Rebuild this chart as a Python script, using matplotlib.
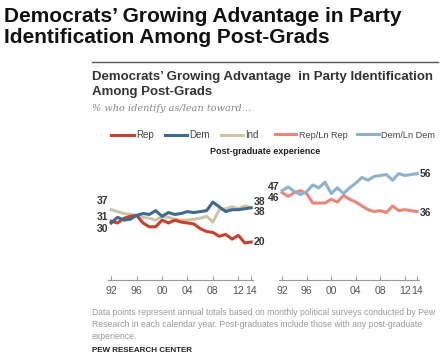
import matplotlib
matplotlib.use('Agg')
import matplotlib.pyplot as plt
from matplotlib.lines import Line2D

plt.rcParams['font.family'] = ['Liberation Sans', 'DejaVu Sans']

years = list(range(1992, 2015))
# Post-graduates, % who identify as
rep = [31, 30, 32.5, 33.5, 34, 30, 28, 28, 31.5, 30, 31.5, 30.5, 30, 29.5, 27, 25.5, 25, 23, 24, 21.5, 23.5, 19.5, 20]
dem = [30, 33, 31.5, 32, 34, 35, 34.5, 36.5, 33.5, 35.5, 34.5, 35, 36, 35.5, 36, 36.5, 41, 38.5, 36, 37, 37, 37.5, 38]
ind = [37, 36, 35, 34.5, 34, 33, 32.5, 31.5, 33.5, 33, 32, 31.5, 31.5, 32, 32.5, 33.5, 30.5, 37, 37.5, 38.5, 37.5, 39, 38]
# % who identify as / lean toward
rep_ln = [46, 44, 46, 47, 45.5, 40.5, 40.5, 40.5, 42.5, 41, 44.5, 42.5, 41, 39, 37, 36, 36.5, 35.5, 39, 36.5, 37, 36.5, 36]
dem_ln = [47, 49, 46.5, 45, 46.5, 50, 48.5, 51.5, 45.5, 48.5, 45.5, 48.5, 51, 54, 52.5, 54.5, 55, 55.5, 52.5, 56, 55, 55.5, 56]

tick_years = [1992, 1996, 2000, 2004, 2008, 2012, 2014]
tick_labels = ['92', '96', '00', '04', '08', '12', '14']

c_rep, c_dem, c_ind = '#c8412e', '#3f6a8e', '#cbc4a8'
c_rep_ln, c_dem_ln = '#e8877a', '#8fb1cc'

W, H = 445, 358
fig = plt.figure(figsize=(W / 100, H / 100), dpi=100)


def fx(px):
    return px / W


def fy(py):
    return 1 - py / H


# titles
fig.text(fx(4), fy(7), 'Democrats\u2019 Growing Advantage in Party\nIdentification Among Post-Grads',
         fontsize=15, fontweight='bold', color='#111111', va='top', ha='left', linespacing=1.15)
fig.add_artist(Line2D([fx(92), fx(438)], [fy(62), fy(62)], color='#555555', lw=1))
fig.text(fx(92), fy(71), 'Democrats\u2019 Growing Advantage  in Party Identification\nAmong Post-Grads',
         fontsize=9.5, fontweight='bold', color='#333333', va='top', ha='left', linespacing=1.3)
fig.text(fx(92), fy(104), '% who identify as/lean toward...', fontsize=7, style='italic',
         family='DejaVu Serif', color='#888888', va='top', ha='left')
fig.text(fx(265), fy(151), 'Post-graduate experience', fontsize=6.5, fontweight='bold',
         color='#222222', ha='center', va='center')


def setup(ax):
    ax.set_xlim(1991.5, 2014.3)
    ax.set_ylim(0, 60)
    for s in ['top', 'right', 'left']:
        ax.spines[s].set_visible(False)
    ax.spines['bottom'].set_color('#999999')
    ax.spines['bottom'].set_linewidth(0.8)
    ax.set_yticks([])
    ax.set_xticks(tick_years)
    ax.set_xticklabels(tick_labels)
    ax.tick_params(axis='x', direction='in', length=3, color='#999999', labelsize=7.5,
                   labelcolor='#555555', pad=4)
    ax.patch.set_alpha(0)


lw = 2.2
ax1 = fig.add_axes([fx(108), fy(280), fx(145), 114 / H])
setup(ax1)
l_ind, = ax1.plot(years, ind, color=c_ind, lw=lw, label='Ind')
l_rep, = ax1.plot(years, rep, color=c_rep, lw=lw, label='Rep')
l_dem, = ax1.plot(years, dem, color=c_dem, lw=lw, label='Dem')

ax2 = fig.add_axes([fx(279), fy(280), fx(140), 114 / H])
setup(ax2)
l_rl, = ax2.plot(years, rep_ln, color=c_rep_ln, lw=lw, label='Rep/Ln Rep')
l_dl, = ax2.plot(years, dem_ln, color=c_dem_ln, lw=lw, label='Dem/Ln Dem')

lab = dict(fontsize=7.5, fontweight='bold', color='#333333', va='center')
# start / end values
ax1.annotate(f'{ind[0]:.0f}', (years[0], ind[0]), xytext=(-2, 6), textcoords='offset points', ha='right', **lab)
ax1.annotate(f'{rep[0]:.0f}', (years[0], rep[0]), xytext=(-2, 3), textcoords='offset points', ha='right', **lab)
ax1.annotate(f'{dem[0]:.0f}', (years[0], dem[0]), xytext=(-2, -4.5), textcoords='offset points', ha='right', **lab)
ax1.annotate(f'{ind[-1]:.0f}', (years[-1], ind[-1]), xytext=(2, 4), textcoords='offset points', ha='left', **lab)
ax1.annotate(f'{dem[-1]:.0f}', (years[-1], dem[-1]), xytext=(2, -3), textcoords='offset points', ha='left', **lab)
ax1.annotate(f'{rep[-1]:.0f}', (years[-1], rep[-1]), xytext=(2, 0), textcoords='offset points', ha='left', **lab)
ax2.annotate(f'{dem_ln[0]:.0f}', (years[0], dem_ln[0]), xytext=(-2, 3), textcoords='offset points', ha='right', **lab)
ax2.annotate(f'{rep_ln[0]:.0f}', (years[0], rep_ln[0]), xytext=(-2, -4), textcoords='offset points', ha='right', **lab)
ax2.annotate(f'{dem_ln[-1]:.0f}', (years[-1], dem_ln[-1]), xytext=(2, 0), textcoords='offset points', ha='left', **lab)
ax2.annotate(f'{rep_ln[-1]:.0f}', (years[-1], rep_ln[-1]), xytext=(2, -1), textcoords='offset points', ha='left', **lab)

leg_kw = dict(frameon=False, handlelength=2.3, handletextpad=0.25, columnspacing=1.1,
              labelcolor='#444444', loc='center', borderpad=0)
fig.legend([l_rep, l_dem, l_ind], ['Rep', 'Dem', 'Ind'], ncol=3, fontsize=7,
           bbox_to_anchor=(fx(185), fy(135)), **leg_kw)
fig.legend([l_rl, l_dl], ['Rep/Ln Rep', 'Dem/Ln Dem'], ncol=2, fontsize=6.6,
           bbox_to_anchor=(fx(355), fy(135)), **leg_kw)

fig.text(fx(92), fy(308), 'Data points represent annual totals based on monthly political surveys conducted by Pew\n'
         'Research in each calendar year. Post-graduates include those with any post-graduate\n'
         'experience.', fontsize=6.2, color='#999999', va='top', ha='left', linespacing=1.45)
fig.text(fx(92), fy(350), 'PEW RESEARCH CENTER', fontsize=5.8, fontweight='bold', color='#222222',
         va='center', ha='left')

fig.savefig('out.png', dpi=100)
